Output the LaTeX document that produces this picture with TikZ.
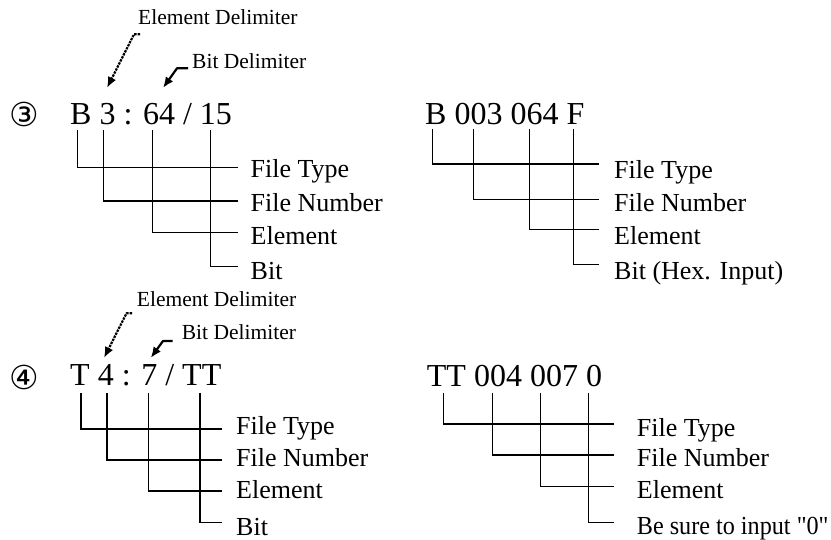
\documentclass[tikz,border=0pt]{standalone}
\usepackage{fontspec}
\setmainfont{Liberation Serif}
\newfontfamily\circfont{DejaVu Sans}
\newfontfamily\narrowfont[FakeStretch=0.93]{Liberation Serif}
\usetikzlibrary{arrows.meta}

\begin{document}
\begin{tikzpicture}[
    x=1pt, y=-1pt,
    code/.style={font=\fontsize{32}{32}\selectfont, inner sep=0pt, anchor=base west},
    lbl/.style={font=\fontsize{26}{26}\selectfont, inner sep=0pt, anchor=base west},
    delim/.style={font=\fontsize{21.5}{21.5}\selectfont, inner sep=0pt, anchor=base west},
    num/.style={font=\circfont\fontsize{33}{33}\selectfont, inner sep=0pt},
    bracket/.style={line width=1.2pt},
    pointer/.style={-{Latex[length=11pt,width=9pt]}, line width=2.2pt, line join=round}
  ]
    \useasboundingbox (0,0) rectangle (831,540);

    % --- example 3, address form
    \node[num] (n3) at (24.7,114) {③};
    \node[code] (addrB) at (70,125) {B 3 : 64 / 15};
    \node[delim] (edB) at (138,25) {Element Delimiter};
    \node[delim] (bdB) at (192,68.3) {Bit Delimiter};
    \node[lbl] (ftB) at (250.5,177.3) {File Type};
    \node[lbl] (fnB) at (250.5,211.7) {File Number};
    \node[lbl] (elB) at (250.5,245) {Element};
    \node[lbl] (btB) at (250.5,280) {Bit};

    \coordinate (edBs) at (140,34.3);
    \coordinate (edBk) at (134,34.3);
    \coordinate (edBt) at (107,88);
    \coordinate (bdBs) at (188,68.3);
    \coordinate (bdBk) at (177,68.3);
    \coordinate (bdBt) at (163,88);
    \draw[pointer, dash pattern=on 2.4pt off 1pt] (edBs) -- (edBk) -- (edBt);
    \draw[pointer] (bdBs) -- (bdBk) -- (bdBt);

    \coordinate (tB1) at (77.7,130);
    \coordinate (tB2) at (103.7,130);
    \coordinate (tB3) at (152.3,130);
    \coordinate (tB4) at (210.7,130);
    \coordinate (eB1) at (238,167.7);
    \coordinate (eB2) at (238,201);
    \coordinate (eB3) at (238,232.7);
    \coordinate (eB4) at (238,266.3);
    \draw[bracket] (tB1) |- (eB1);
    \draw[bracket] (tB2) |- (eB2);
    \draw[bracket] (tB3) |- (eB3);
    \draw[bracket] (tB4) |- (eB4);

    % --- example 3, device form
    \node[code] (devB) at (425,125) {B 003 064 F};
    \node[lbl] (ftBd) at (614,178.3) {File Type};
    \node[lbl] (fnBd) at (614,211.7) {File Number};
    \node[lbl] (elBd) at (614,245) {Element};
    \node[lbl] (btBd) at (614,280) {Bit (Hex. Input)};

    \coordinate (tD1) at (432.7,129);
    \coordinate (tD2) at (473.3,129);
    \coordinate (tD3) at (529.3,129);
    \coordinate (tD4) at (573.3,129);
    \coordinate (eD1) at (599.3,164);
    \coordinate (eD2) at (599.3,199.3);
    \coordinate (eD3) at (599.3,229.3);
    \coordinate (eD4) at (599.3,264.3);
    \draw[bracket] (tD1) |- (eD1);
    \draw[bracket] (tD2) |- (eD2);
    \draw[bracket] (tD3) |- (eD3);
    \draw[bracket] (tD4) |- (eD4);

    % --- example 4, address form
    \node[num] (n4) at (24.3,377) {④};
    \node[code] (addrT) at (70,386) {T 4 : 7 / TT};
    \node[delim] (edT) at (136.7,307) {Element Delimiter};
    \node[delim] (bdT) at (181.7,340) {Bit Delimiter};
    \node[lbl] (ftT) at (236,435) {File Type};
    \node[lbl] (fnT) at (236,466.7) {File Number};
    \node[lbl] (elT) at (236,498.3) {Element};
    \node[lbl] (btT) at (236,535) {Bit};

    \coordinate (edTs) at (132,313.3);
    \coordinate (edTk) at (126.5,313.3);
    \coordinate (edTt) at (104,358);
    \coordinate (bdTs) at (172.7,341);
    \coordinate (bdTk) at (163,341);
    \coordinate (bdTt) at (150.7,358);
    \draw[pointer, dash pattern=on 2.4pt off 1pt] (edTs) -- (edTk) -- (edTt);
    \draw[pointer] (bdTs) -- (bdTk) -- (bdTt);

    \coordinate (tT1) at (81,393);
    \coordinate (tT2) at (107,393);
    \coordinate (tT3) at (148.3,393);
    \coordinate (tT4) at (200,393);
    \coordinate (eT1) at (221.7,429);
    \coordinate (eT2) at (221.7,460);
    \coordinate (eT3) at (221.7,491);
    \coordinate (eT4) at (221.7,522.7);
    \draw[bracket] (tT1) |- (eT1);
    \draw[bracket] (tT2) |- (eT2);
    \draw[bracket] (tT3) |- (eT3);
    \draw[bracket] (tT4) |- (eT4);

    % --- example 4, device form
    \node[code] (devT) at (426.7,386.7) {TT 004 007 0};
    \node[lbl] (ftTd) at (636.7,436.7) {File Type};
    \node[lbl] (fnTd) at (636.7,466.7) {File Number};
    \node[lbl] (elTd) at (636.7,498.3) {Element};
    \node[lbl, font=\narrowfont\fontsize{26}{26}\selectfont] (btTd) at (636.7,534) {Be sure to input "0"};

    \coordinate (tE1) at (443.3,393);
    \coordinate (tE2) at (492.3,393);
    \coordinate (tE3) at (540.7,393);
    \coordinate (tE4) at (588.3,393);
    \coordinate (eE1) at (614,424);
    \coordinate (eE2) at (614,455);
    \coordinate (eE3) at (614,486.7);
    \coordinate (eE4) at (614,522.7);
    \draw[bracket] (tE1) |- (eE1);
    \draw[bracket] (tE2) |- (eE2);
    \draw[bracket] (tE3) |- (eE3);
    \draw[bracket] (tE4) |- (eE4);
  \end{tikzpicture}
\end{document}
